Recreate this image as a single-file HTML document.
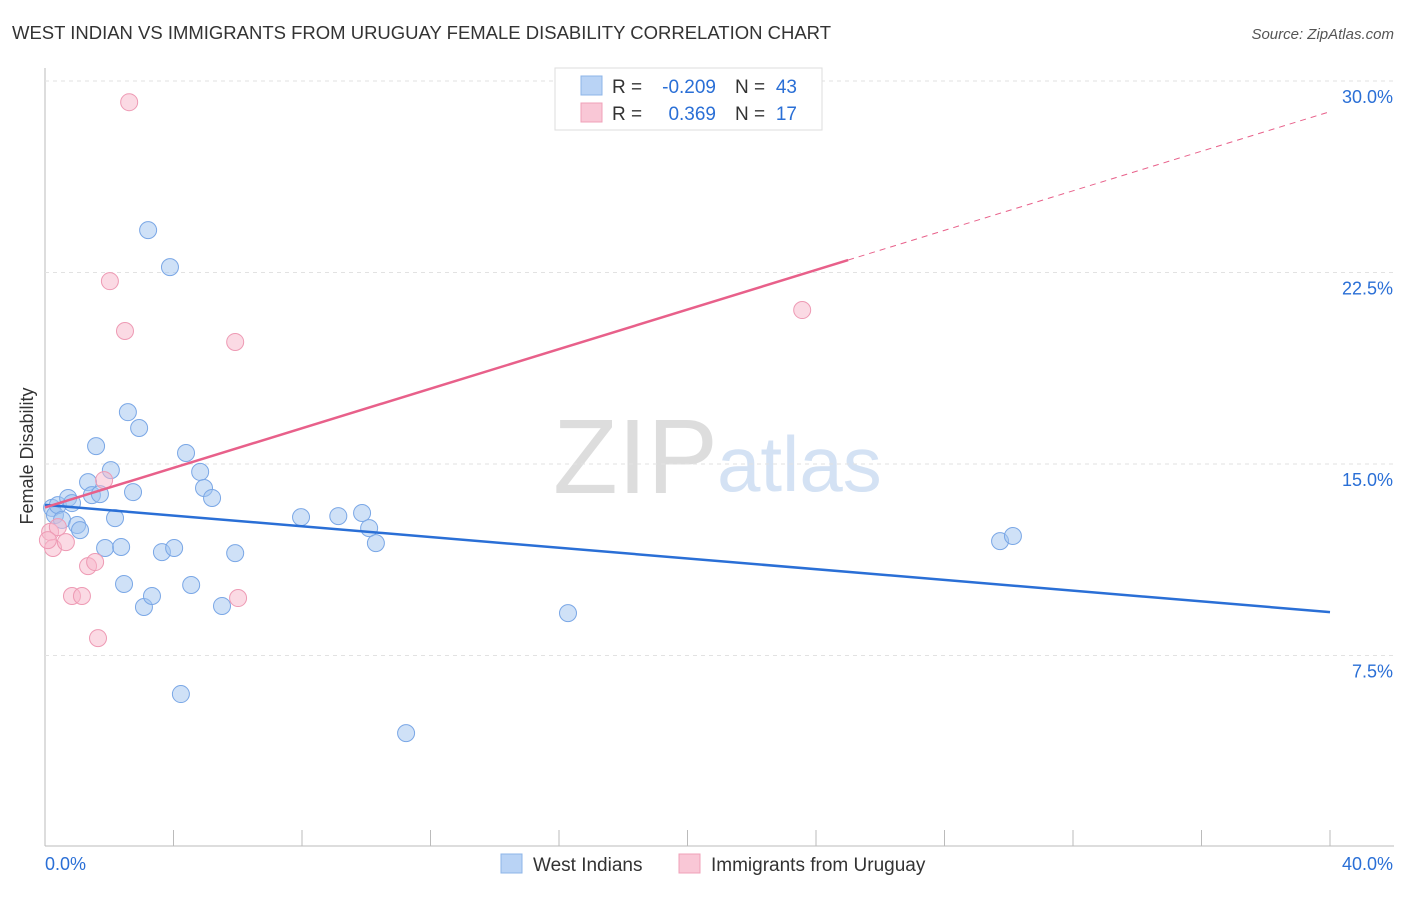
<!DOCTYPE html>
<html><head><meta charset="utf-8"><style>
body{margin:0;background:#fff;font-family:"Liberation Sans",sans-serif}
svg text{font-family:"Liberation Sans",sans-serif}
</style></head><body>
<svg id="c" width="1406" height="892">
<text x="12" y="39" font-size="18.5" fill="#333" textLength="819">WEST INDIAN VS IMMIGRANTS FROM URUGUAY FEMALE DISABILITY CORRELATION CHART</text>
<text x="1394" y="39" font-size="15" fill="#555" font-style="italic" text-anchor="end">Source: ZipAtlas.com</text>
<text x="33" y="456" font-size="18" fill="#333" text-anchor="middle" transform="rotate(-90 33 456)">Female Disability</text>
<text x="553" y="493" font-size="106" fill="#ddd" font-family="Liberation Serif">ZIP</text>
<text x="717" y="491" font-size="78" fill="#d4e2f4">atlas</text>
<g id="grid"></g><g id="pts"></g><g id="lines"></g>
<g font-size="19">
<rect x="555" y="68" width="267" height="62" fill="#fff" stroke="#ddd"/>
<rect x="581" y="76" width="21" height="19" fill="#b9d3f5" stroke="#8db4e8"/>
<rect x="581" y="103" width="21" height="19" fill="#f9c7d6" stroke="#f0a0b8"/>
<text x="612" y="93" fill="#333">R =</text>
<text x="716" y="93" fill="#2a6fd6" text-anchor="end">-0.209</text>
<text x="735" y="93" fill="#333">N =</text>
<text x="797" y="93" fill="#2a6fd6" text-anchor="end">43</text>
<text x="612" y="120" fill="#333">R =</text>
<text x="716" y="120" fill="#2a6fd6" text-anchor="end">0.369</text>
<text x="735" y="120" fill="#333">N =</text>
<text x="797" y="120" fill="#2a6fd6" text-anchor="end">17</text>
</g>
<g>
<rect x="501" y="854" width="21" height="19" fill="#b9d3f5" stroke="#8db4e8"/>
<text x="533" y="871" font-size="19" fill="#333">West Indians</text>
<rect x="679" y="854" width="21" height="19" fill="#f9c7d6" stroke="#f0a0b8"/>
<text x="711" y="871" font-size="19" fill="#333">Immigrants from Uruguay</text>
</g>
</svg>
<script>
const yTicks=[7.5,15,22.5,30];
const yTickLabels=["7.5%","15.0%","22.5%","30.0%"];
const xTickLabels=["0.0%","40.0%"];
const blueX=[0.22,0.31,0.40,0.53,0.72,0.84,1.00,1.09,1.34,1.46,1.59,1.71,1.87,2.05,2.18,2.37,2.46,2.58,2.74,2.93,3.08,3.21,3.33,3.64,3.89,4.02,4.23,4.39,4.55,4.83,4.95,5.20,5.51,5.92,7.97,9.13,9.87,10.09,10.30,11.24,16.28,29.73,30.13];
const blueY=[13.28,13.00,13.39,12.81,13.67,13.47,12.61,12.41,14.29,13.78,15.70,13.82,11.71,14.76,12.88,11.75,10.30,17.03,13.90,16.41,9.40,24.16,9.83,11.55,22.71,11.71,5.99,15.43,10.26,14.69,14.06,13.67,9.44,11.51,12.92,12.96,13.08,12.49,11.90,4.46,9.16,11.98,12.18];
const pinkX=[0.16,0.25,0.40,0.65,0.84,1.15,1.34,1.56,1.65,1.84,2.02,2.49,2.62,5.92,6.01,23.57,0.09];
const pinkY=[12.34,11.71,12.53,11.94,9.83,9.83,11.00,11.16,8.18,14.37,22.16,20.21,29.17,19.78,9.75,21.03,12.02];
const blueTrend=[13.4,9.2];
const pinkTrend=[13.3,28.8];
const pinkSolidEnd=25.0;
const NS="http://www.w3.org/2000/svg";
const sx=v=>45+v/40*1285, sy=v=>847-v/7.5*191.5;
function mk(t,a,p){const e=document.createElementNS(NS,t);for(const k in a)e.setAttribute(k,a[k]);p.appendChild(e);return e;}
const svg=document.getElementById('c'),grid=document.getElementById('grid'),pts=document.getElementById('pts'),lines=document.getElementById('lines');
let ax=mk('line',{x1:45,y1:68,x2:45,y2:846,stroke:'#bbb'},grid);


let bx=mk('line',{x1:45,y1:846,x2:1394,y2:846,stroke:'#bbb'},grid);


for(let i=0;i<=10;i++){let t=mk('line',{x1:sx(i*4),y1:830,x2:sx(i*4),y2:846,stroke:'#bbb'},grid);

}
yTicks.forEach((v,i)=>{let g=mk('line',{x1:45,y1:sy(v),x2:1394,y2:sy(v),stroke:'#e2e2e2','stroke-dasharray':'4,4'},grid);


let t=mk('text',{x:1393,y:sy(v)+22,'font-size':18,fill:'#2a6fd6','text-anchor':'end'},grid);t.textContent=yTickLabels[i];

});
[[45,'start'],[1393,'end']].forEach((p,i)=>{let t=mk('text',{x:p[0],y:870,'font-size':18,fill:'#2a6fd6','text-anchor':p[1]},grid);t.textContent=xTickLabels[i];

});
blueX.forEach((x,i)=>{let c=mk('circle',{cx:sx(x),cy:sy(blueY[i]),r:8.5,fill:'rgba(160,196,240,0.5)',stroke:'#7aa7e6','stroke-width':1},pts);

});
pinkX.forEach((x,i)=>{let c=mk('circle',{cx:sx(x),cy:sy(pinkY[i]),r:8.5,fill:'rgba(248,182,202,0.5)',stroke:'#ee9ab4','stroke-width':1},pts);

});
let bl=mk('line',{x1:sx(0),y1:sy(blueTrend[0]),x2:sx(40),y2:sy(blueTrend[1]),stroke:'#2a6fd6','stroke-width':2.5},lines);


const py=x=>pinkTrend[0]+(pinkTrend[1]-pinkTrend[0])*x/40;
let pl=mk('line',{x1:sx(0),y1:sy(py(0)),x2:sx(pinkSolidEnd),y2:sy(py(pinkSolidEnd)),stroke:'#e8608a','stroke-width':2.5},lines);


let pd=mk('line',{x1:sx(pinkSolidEnd),y1:sy(py(pinkSolidEnd)),x2:sx(40),y2:sy(py(40)),stroke:'#e8608a','stroke-width':1,'stroke-dasharray':'6,5'},lines);


</script>
</body></html>
